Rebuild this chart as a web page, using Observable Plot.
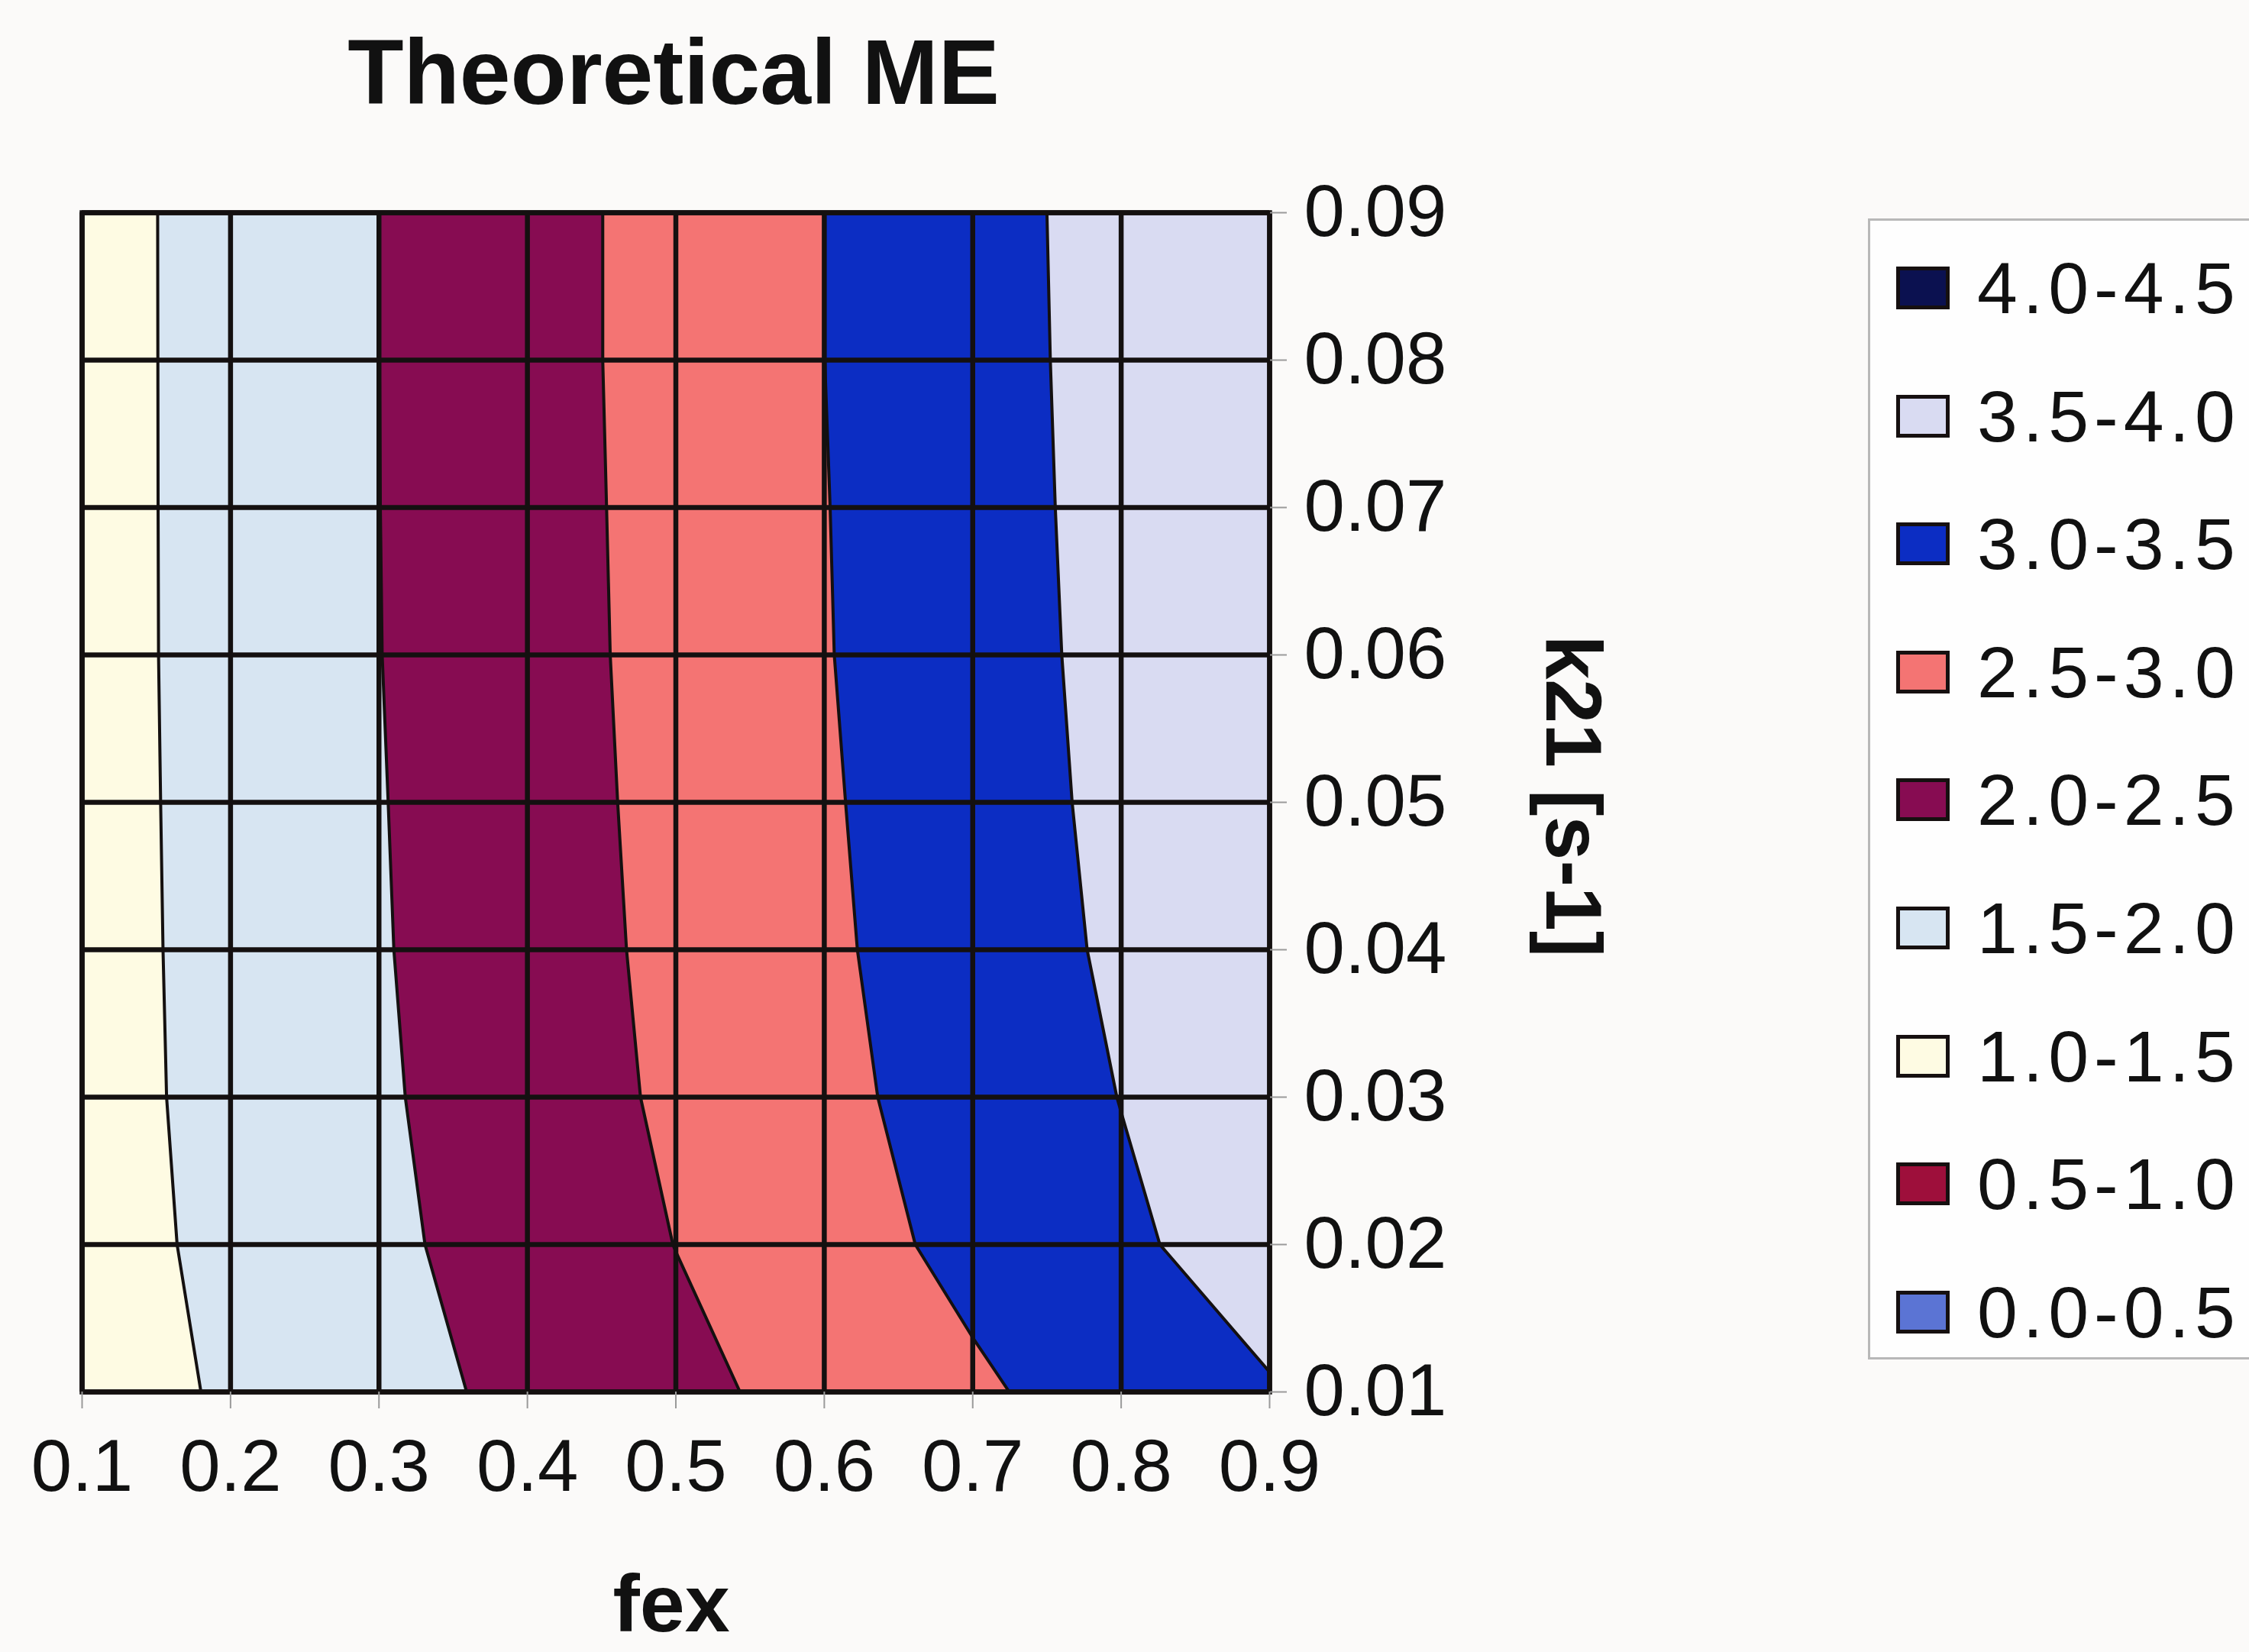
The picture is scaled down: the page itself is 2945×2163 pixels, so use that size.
<!DOCTYPE html>
<html>
<head>
<meta charset="utf-8">
<script src="https://cdn.jsdelivr.net/npm/d3@7"></script>
<script src="https://cdn.jsdelivr.net/npm/@observablehq/plot@0.6"></script>
<style>
  html, body { margin: 0; padding: 0; background: #fbfaf9; overflow: hidden; }
  #wrap { position: relative; width: 2945px; height: 2163px; font-family: "Liberation Sans", Arial, sans-serif; }
  #legend { position: absolute; left: 2446px; top: 286px; width: 620px; height: 1494px;
            background: #fefefe; border: 3px solid #b8b8b8; box-sizing: border-box; }
  .row { position: absolute; left: 0; height: 100px; }
  .sw { position: absolute; left: 34px; width: 70px; height: 56px; box-sizing: border-box; border: 5px solid #161010; }
  .lab { position: absolute; left: 140px; font-size: 95px; line-height: 100px; letter-spacing: 7px; color: #111; white-space: nowrap; }
</style>
</head>
<body>
<div id="wrap"></div>
<script>
// Grid axes
const fex = [0.1, 0.2, 0.3, 0.4, 0.5, 0.6, 0.7, 0.8, 0.9];
const k21 = [0.01, 0.02, 0.03, 0.04, 0.05, 0.06, 0.07, 0.08, 0.09];

// Theoretical ME, one row per k21 value (columns follow fex)
const me_k01 = [1.275, 1.556, 1.837, 2.113, 2.382, 2.655, 2.931, 3.211, 3.465];
const me_k02 = [1.308, 1.608, 1.907, 2.207, 2.506, 2.813, 3.118, 3.421, 3.724];
const me_k03 = [1.323, 1.634, 1.944, 2.260, 2.575, 2.888, 3.199, 3.509, 3.820];
const me_k04 = [1.325, 1.646, 1.968, 2.287, 2.606, 2.928, 3.251, 3.574, 3.898];
const me_k05 = [1.327, 1.654, 1.980, 2.303, 2.627, 2.953, 3.281, 3.608, 3.935];
const me_k06 = [1.328, 1.662, 1.993, 2.317, 2.645, 2.978, 3.305, 3.630, 3.956];
const me_k07 = [1.329, 1.663, 1.997, 2.324, 2.654, 2.987, 3.317, 3.646, 3.976];
const me_k08 = [1.329, 1.664, 1.999, 2.331, 2.664, 2.999, 3.328, 3.657, 3.985];
const me_k09 = [1.330, 1.664, 1.999, 2.331, 2.664, 2.999, 3.333, 3.667, 3.998];

// Contour band thresholds and legend
const thresholds = [0.5, 1.0, 1.5, 2.0, 2.5, 3.0, 3.5, 4.0];
const bandLabels = ["0.0-0.5", "0.5-1.0", "1.0-1.5", "1.5-2.0", "2.0-2.5", "2.5-3.0", "3.0-3.5", "3.5-4.0", "4.0-4.5"];
const bandColors = ["#5b74d4", "#9e0f3b", "#fefbe3", "#d7e5f2", "#870c52", "#f47473", "#0c2dc3", "#d9dbf2", "#0b1150"];

const grid = [me_k01, me_k02, me_k03, me_k04, me_k05, me_k06, me_k07, me_k08, me_k09].flat();

const font = '"Liberation Sans", Arial, sans-serif';
const ink = "#141010";

const chart = Plot.plot({
  width: 2945,
  height: 2163,
  marginLeft: 107,
  marginRight: 1283,
  marginTop: 278,
  marginBottom: 341,
  style: {fontFamily: font, background: "transparent", overflow: "visible"},
  x: {domain: [0.1, 0.9]},
  y: {domain: [0.01, 0.09]},
  color: {type: "threshold", domain: thresholds, range: bandColors},
  marks: [
    Plot.contour(grid, {
      value: (d) => d,
      width: 9, height: 9,
      x1: 0.05, x2: 0.95, y1: 0.005, y2: 0.095,
      thresholds: thresholds.slice(1),
      fill: "value",
      stroke: ink,
      strokeWidth: 4,
      strokeLinejoin: "round",
      clip: true
    }),
    Plot.gridX(fex, {stroke: ink, strokeOpacity: 1, strokeWidth: 6.5}),
    Plot.gridY(k21, {stroke: ink, strokeOpacity: 1, strokeWidth: 6.5}),
    Plot.frame({stroke: ink, strokeWidth: 6.5}),
    Plot.axisX(fex, {anchor: "bottom", tickSize: 22, tickPadding: 39, fontSize: 96,
      tickFormat: (d) => d.toFixed(1), stroke: "#9a9a9a", strokeWidth: 2, fill: "#111", label: null}),
    Plot.axisY(k21, {anchor: "right", tickSize: 22, tickPadding: 23, fontSize: 96,
      tickFormat: (d) => d.toFixed(2), stroke: "#9a9a9a", strokeWidth: 2, fill: "#111", label: null}),
    Plot.text(["Theoretical ME"], {text: (d) => d, frameAnchor: "top", textAnchor: "middle", lineAnchor: "middle",
      dx: -3, dy: -181, fontSize: 120, fontWeight: "bold", fill: "#111"}),
    Plot.text(["fex"], {text: (d) => d, frameAnchor: "bottom", textAnchor: "middle", lineAnchor: "middle",
      dx: -6, dy: 280, fontSize: 106, fontWeight: "bold", fill: "#111", letterSpacing: 3}),
    Plot.text(["k21 [s-1]"], {text: (d) => d, frameAnchor: "right", textAnchor: "middle", lineAnchor: "middle",
      dx: 396, dy: -8, rotate: 90, fontSize: 104, fontWeight: "bold", fill: "#111"})
  ]
});

const wrap = document.getElementById("wrap");
wrap.appendChild(chart);

// Legend (highest band on top)
const legend = document.createElement("div");
legend.id = "legend";
const order = bandLabels.map((l, i) => i).reverse();
order.forEach((bi, r) => {
  const cy = 91 + r * 167.6; // centre of entry, relative to legend box
  const row = document.createElement("div");
  row.className = "row";
  row.style.top = (cy - 3 - 50) + "px";
  row.style.width = "600px";
  const sw = document.createElement("div");
  sw.className = "sw";
  sw.style.top = "22px";
  sw.style.background = bandColors[bi];
  const lab = document.createElement("div");
  lab.className = "lab";
  lab.style.top = "0px";
  lab.textContent = bandLabels[bi];
  row.appendChild(sw);
  row.appendChild(lab);
  legend.appendChild(row);
});
wrap.appendChild(legend);
</script>
</body>
</html>
